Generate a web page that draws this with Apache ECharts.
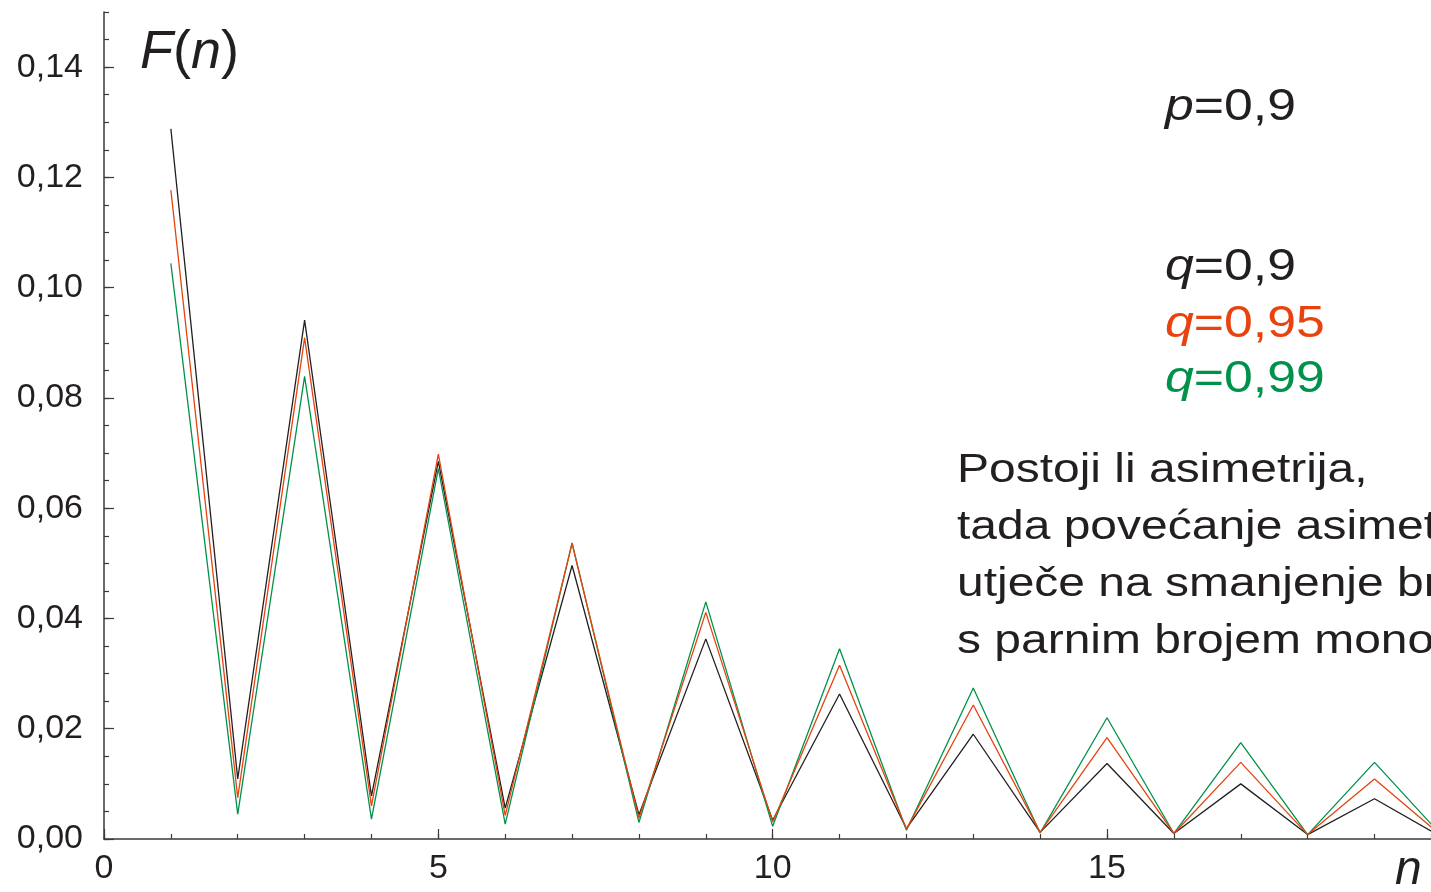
<!DOCTYPE html>
<html>
<head>
<meta charset="utf-8">
<script src="https://cdn.jsdelivr.net/npm/echarts@6/dist/echarts.min.js"></script>
<style>
html,body{margin:0;padding:0;background:#fff;}
#chart{width:1431px;height:892px;}
</style>
</head>
<body>
<div id="chart"></div>
<script>
// n = 1..20
const nValues = [1,2,3,4,5,6,7,8,9,10,11,12,13,14,15,16,17,18,19,20];
const q090 = [0.1288,0.0109,0.0941,0.0078,0.0685,0.0056,0.0496,0.0044,0.0363,0.0034,0.0263,0.0019,0.0190,0.0012,0.0137,0.0010,0.0100,0.0008,0.0073,0.0004];
const q095 = [0.1177,0.0075,0.0909,0.0060,0.0698,0.0043,0.0536,0.0038,0.0411,0.0031,0.0315,0.0018,0.0243,0.0012,0.0184,0.0010,0.0139,0.0008,0.0109,0.0006];
const q099 = [0.1044,0.0045,0.0839,0.0036,0.0672,0.0027,0.0537,0.0030,0.0430,0.0023,0.0345,0.0016,0.0274,0.0011,0.0220,0.0010,0.0175,0.0008,0.0139,0.0007];
const yTickValues = [0,0.02,0.04,0.06,0.08,0.10,0.12,0.14];
const xTickValues = [0,5,10,15];
const descLines = ['Postoji li asimetrija,','tada povećanje asimetrije','utječe na smanjenje broja','s parnim brojem monomera'];

const BLACK = '#231f20', ORANGE = '#e8430f', GREEN = '#00924b', AXIS = '#3a3a3a';
const FONT = '"Liberation Sans", Arial, sans-serif';
const X_MAX = 19.845; // visible part of the n axis (picture is cropped at the right)

function pairs(arr){ return arr.map((v,i)=>[nValues[i], v]); }
function fmtY(v){ return v.toFixed(2).replace('.', ','); }

const chart = echarts.init(document.getElementById('chart'));
chart.setOption({
  animation:false,
  backgroundColor:'#fff',
  grid:{left:104, top:12, right:0, height:827, containLabel:false},
  xAxis:[{
    type:'value', min:0, max:X_MAX, interval:5, position:'bottom',
    axisLine:{show:true, onZero:false, lineStyle:{color:AXIS, width:1.5}},
    axisTick:{show:true, inside:true, length:10, customValues:xTickValues, lineStyle:{color:AXIS, width:1.2}},
    axisLabel:{show:true, margin:13, fontSize:34, color:BLACK, fontFamily:FONT,
      customValues:xTickValues, formatter:v=>String(v)},
    splitLine:{show:false}
  },{
    type:'value', min:0, max:X_MAX, interval:1, position:'bottom', offset:0,
    axisLine:{show:false},
    axisTick:{show:true, inside:true, length:5, lineStyle:{color:AXIS, width:1.2}},
    axisLabel:{show:false},
    splitLine:{show:false}
  }],
  yAxis:[{
    type:'value', min:0, max:0.15, position:'left',
    axisLine:{show:true, onZero:false, lineStyle:{color:AXIS, width:1.5}},
    axisTick:{show:true, inside:true, length:10, customValues:yTickValues, lineStyle:{color:AXIS, width:1.2}},
    axisLabel:{show:true, margin:21, fontSize:34, color:BLACK, fontFamily:FONT, customValues:yTickValues,
      formatter:fmtY},
    splitLine:{show:false}
  },{
    type:'value', min:0, max:0.15, interval:0.005, position:'left', offset:0,
    axisLine:{show:false},
    axisTick:{show:true, inside:true, length:5, lineStyle:{color:AXIS, width:1.2}},
    axisLabel:{show:false},
    splitLine:{show:false}
  }],
  series:[
    {type:'line', name:'q=0,9', data:pairs(q090), showSymbol:false, clip:true, lineStyle:{color:BLACK, width:1.3}, itemStyle:{color:BLACK}, z:2},
    {type:'line', name:'q=0,99', data:pairs(q099), showSymbol:false, clip:true, lineStyle:{color:GREEN, width:1.3}, itemStyle:{color:GREEN}, z:3},
    {type:'line', name:'q=0,95', data:pairs(q095), showSymbol:false, clip:true, lineStyle:{color:ORANGE, width:1.3}, itemStyle:{color:ORANGE}, z:4}
  ],
  graphic:[
    {type:'text', x:140, y:26, style:{text:'{i|F}(' + '{i|n})', font:'54px ' + FONT, fill:BLACK,
      rich:{i:{fontStyle:'italic', fontSize:54, fontFamily:FONT, fill:BLACK}}}},
    {type:'text', x:1165, y:85, scaleX:1.15, style:{text:'{i|p}=0,9', font:'45px ' + FONT, fill:BLACK,
      rich:{i:{fontStyle:'italic', fontSize:45, fontFamily:FONT, fill:BLACK}}}},
    {type:'text', x:1165, y:245, scaleX:1.15, style:{text:'{i|q}=0,9', font:'45px ' + FONT, fill:BLACK,
      rich:{i:{fontStyle:'italic', fontSize:45, fontFamily:FONT, fill:BLACK}}}},
    {type:'text', x:1165, y:302, scaleX:1.15, style:{text:'{i|q}=0,95', font:'45px ' + FONT, fill:ORANGE,
      rich:{i:{fontStyle:'italic', fontSize:45, fontFamily:FONT, fill:ORANGE}}}},
    {type:'text', x:1165, y:357, scaleX:1.15, style:{text:'{i|q}=0,99', font:'45px ' + FONT, fill:GREEN,
      rich:{i:{fontStyle:'italic', fontSize:45, fontFamily:FONT, fill:GREEN}}}},
    ...descLines.map((t,i)=>({type:'text', x:957, y:450 + i*57, scaleX:1.17,
      style:{text:t, font:'41px ' + FONT, fill:BLACK}})),
    {type:'text', x:1395, y:847, style:{text:'n', font:'italic 48px ' + FONT, fill:BLACK}}
  ]
});
</script>
</body>
</html>
